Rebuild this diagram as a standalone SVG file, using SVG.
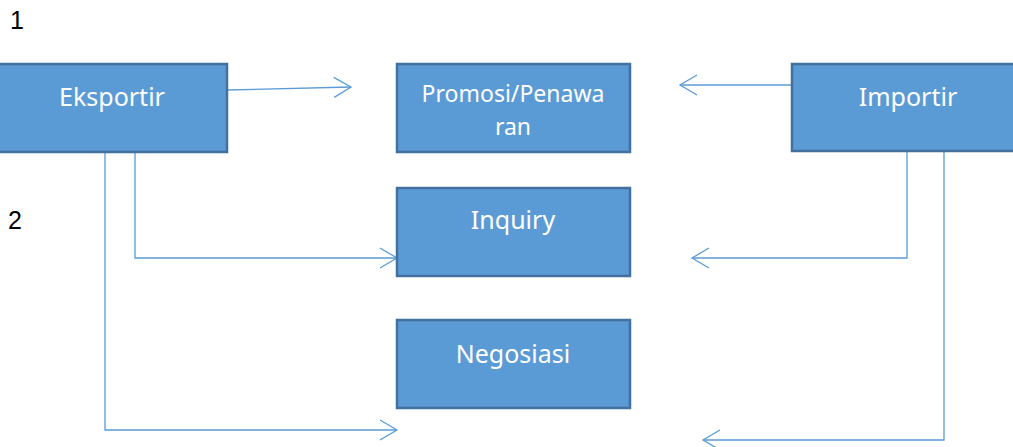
<svg xmlns="http://www.w3.org/2000/svg" width="1013" height="447" viewBox="0 0 1013 447">
  <style>
    .box { fill: #5B9BD5; stroke: #41719C; stroke-width: 2.5; }
    .label { fill: #ffffff; font-family: "Noto Sans", "Open Sans", sans-serif; font-size: 25px; text-anchor: middle; }
    .num { fill: #000000; font-family: "Liberation Sans", Arial, sans-serif; font-size: 25px; }
    .link { fill: none; stroke: #5B9BD5; stroke-width: 1.3; }
  </style>
  <defs>
    <marker id="open-arrow" markerUnits="userSpaceOnUse" markerWidth="22" markerHeight="24" refX="18" refY="11" orient="auto">
      <path d="M1,1 L18,11 L1,21" fill="none" stroke="#5B9BD5" stroke-width="1.3"/>
    </marker>
  </defs>

  <rect width="1013" height="447" fill="#ffffff"/>

  <text class="num" x="10" y="29">1</text>
  <text class="num" x="8" y="229">2</text>

  <g id="connectors">
    <path class="link" d="M227,90 L351,87" marker-end="url(#open-arrow)"/>
    <path class="link" d="M792,85 L680,85" marker-end="url(#open-arrow)"/>
    <path class="link" d="M135,152 L135,258 L397,258" marker-end="url(#open-arrow)"/>
    <path class="link" d="M105,152 L105,430 L397,430" marker-end="url(#open-arrow)"/>
    <path class="link" d="M907,152 L907,258 L692,258" marker-end="url(#open-arrow)"/>
    <path class="link" d="M944,152 L944,440 L703,440" marker-end="url(#open-arrow)"/>
  </g>

  <g id="eksportir">
    <rect class="box" x="-4" y="64" width="231" height="88"/>
    <text class="label" x="112" y="106">Eksportir</text>
  </g>

  <g id="promosi">
    <rect class="box" x="397" y="64" width="233" height="88"/>
    <text class="label" x="513" y="102" style="font-size:23px">Promosi/Penawa</text>
    <text class="label" x="513" y="135" style="font-size:23px">ran</text>
  </g>

  <g id="importir">
    <rect class="box" x="792" y="64" width="230" height="87"/>
    <text class="label" x="908" y="106">Importir</text>
  </g>

  <g id="inquiry">
    <rect class="box" x="397" y="188" width="233" height="88"/>
    <text class="label" x="513" y="229">Inquiry</text>
  </g>

  <g id="negosiasi">
    <rect class="box" x="397" y="320" width="233" height="88"/>
    <text class="label" x="513" y="363">Negosiasi</text>
  </g>
</svg>
